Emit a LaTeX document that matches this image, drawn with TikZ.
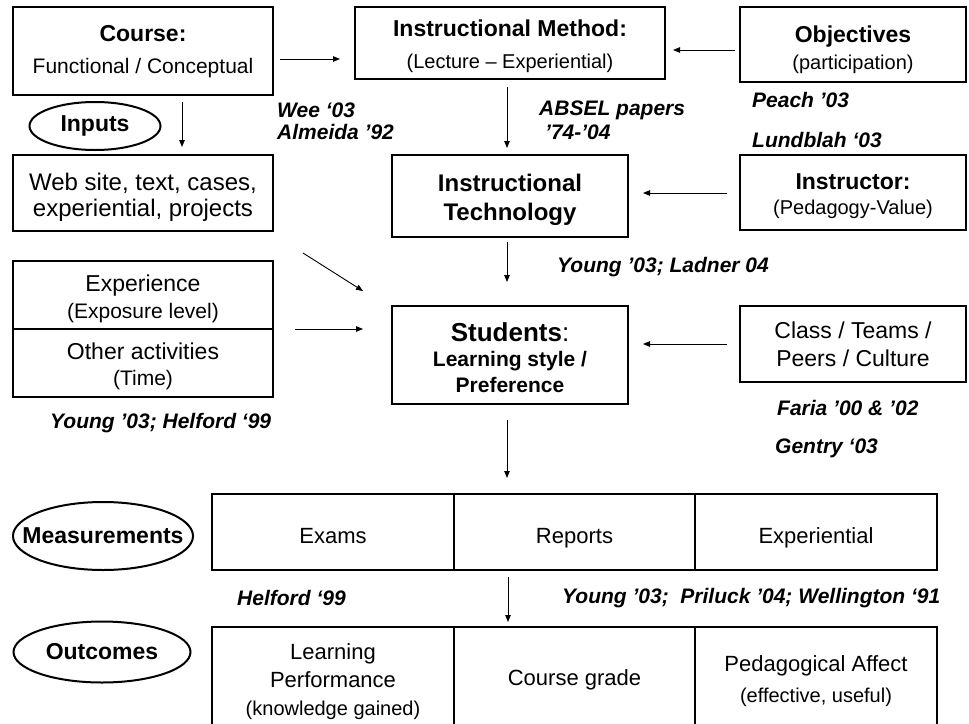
\documentclass[tikz,border=0pt]{standalone}
\usepackage{fontspec}
\setmainfont{Liberation Sans}
\usetikzlibrary{shapes.geometric,arrows.meta}
\newcommand{\myfs}[2]{\fontsize{#1}{#2}\selectfont}
\begin{document}
\begin{tikzpicture}[x=1pt,y=-1pt,
  box/.style={draw, line width=2.3pt, inner sep=0pt, outer sep=0pt},
  txt/.style={align=center, inner sep=0pt, outer sep=0pt},
  oval/.style={draw, ellipse, line width=2pt, inner sep=0pt, outer sep=0pt, font=\myfs{23}{28}\bfseries},
  cite/.style={anchor=west, inner sep=0pt, font=\myfs{21}{24}\bfseries\itshape},
  arr/.style={line width=0.9pt, -{Triangle[length=7pt,width=5.5pt]}},
]
\fill[white] (0,0) rectangle (969,723);
\useasboundingbox (0,0) rectangle (969,723);

% top row
\node[box, minimum width=260pt, minimum height=88pt] (course) at (143,51) {};
\node[txt, font=\myfs{21}{32}] (coursetx) at ([yshift=-0.5pt]course.center)
  {{\myfs{23}{32}\bfseries Course:}\\Functional / Conceptual};
\node[box, minimum width=310pt, minimum height=72pt] (method) at (510,43) {};
\node[txt, font=\myfs{20}{32}] (methodtx) at ([yshift=-3pt]method.center)
  {{\myfs{23}{32}\bfseries Instructional Method:}\\(Lecture – Experiential)};
\node[box, minimum width=226pt, minimum height=75pt] (objectives) at (853,44.5) {};
\node[txt, font=\myfs{20}{27}] (objectivestx) at ([yshift=-5.5pt]objectives.center)
  {{\myfs{23}{27}\bfseries Objectives}\\(participation)};

% second row
\node[oval, minimum width=131pt, minimum height=48pt] (inputs) at (95,126) {\makebox[0pt]{Inputs}};
\node[box, minimum width=260pt, minimum height=76pt] (web) at (143,193) {};
\node[txt, font=\myfs{24}{26}] (webtx) at ([yshift=-4pt]web.center)
  {Web site, text, cases,\\experiential, projects};
\node[box, minimum width=236pt, minimum height=82pt] (tech) at (510,196) {};
\node[txt, font=\myfs{24}{29}\bfseries] (techtx) at ([yshift=-3.5pt]tech.center)
  {Instructional\\Technology};
\node[box, minimum width=226pt, minimum height=75pt] (instructor) at (853,192.5) {};
\node[txt, font=\myfs{20}{25}] (instructortx) at ([yshift=-3.5pt]instructor.center)
  {{\myfs{23}{25}\bfseries Instructor:}\\(Pedagogy-Value)};

% third row
\node[box, minimum width=260pt, minimum height=68pt] (exp) at (143,295) {};
\node[txt, font=\myfs{21}{27}] (exptx) at ([yshift=-4pt]exp.center)
  {{\myfs{23}{27}Experience}\\(Exposure level)};
\node[box, minimum width=260pt, minimum height=68pt] (other) at (143,363) {};
\node[txt, font=\myfs{21}{26}] (othertx) at ([yshift=-3.5pt]other.center)
  {{\myfs{23}{26}Other activities}\\(Time)};
\node[box, minimum width=236pt, minimum height=98pt] (students) at (510,355) {};
\node[txt, font=\myfs{21}{26}\bfseries] (studentstx) at ([yshift=-3pt]students.center)
  {{\myfs{26}{30}Students\mdseries:}\\[-1pt]Learning style /\\Preference};
\node[box, minimum width=226pt, minimum height=76pt] (class) at (853,344) {};
\node[txt, font=\myfs{23}{28}] (classtx) at (class.center)
  {Class / Teams /\\Peers / Culture};

% measurements
\node[oval, minimum width=180pt, minimum height=68pt] (measov) at (103,536) {\makebox[0pt]{Measurements}};
\node[box, minimum width=242pt, minimum height=76pt] (mexam) at (333,532) {};
\node[box, minimum width=241pt, minimum height=76pt] (mrep) at (574.5,532) {};
\node[box, minimum width=242pt, minimum height=76pt] (mexp) at (816,532) {};
\node[txt, anchor=base, font=\myfs{22}{26}] (mexamtx) at (333,543) {Exams};
\node[txt, anchor=base, font=\myfs{22}{26}] (mreptx) at (574.5,543) {Reports};
\node[txt, anchor=base, font=\myfs{22}{26}] (mexptx) at (816,543) {Experiential};

% outcomes
\node[oval, minimum width=177pt, minimum height=61pt] (outov) at (102,652) {\makebox[0pt]{Outcomes}};
\begin{scope}
\clip (0,0) rectangle (969,723);
\node[box, minimum width=242pt, minimum height=106pt] (olearn) at (333,680) {};
\node[box, minimum width=241pt, minimum height=106pt] (orep) at (574.5,680) {};
\node[box, minimum width=242pt, minimum height=106pt] (oaff) at (816,680) {};
\end{scope}
\node[txt, font=\myfs{20}{28}] (olearntx) at ([yshift=-1.5pt]olearn.center)
  {{\myfs{22}{28}Learning}\\{\myfs{22}{28}Performance}\\(knowledge gained)};
\node[txt, font=\myfs{22}{28}] (oreptx) at (orep.center) {Course grade};
\node[txt, font=\myfs{20}{31}] (oafftx) at ([yshift=-1pt]oaff.center)
  {{\myfs{22}{31}Pedagogical Affect}\\(effective, useful)};

% citations
\node[cite] (c1) at (277,110) {Wee ‘03};
\node[cite] (c2) at (277,132) {Almeida ’92};
\node[cite] (c3) at (539,110) {ABSEL papers};
\node[cite] (c4) at (545,132) {’74-’04};
\node[cite] (c5) at (752,100) {Peach ’03};
\node[cite] (c6) at (752,140) {Lundblah ‘03};
\node[cite] (c7) at (557,267) {Young ’03; Ladner 04};
\node[cite] (c8) at (50,423) {Young ’03; Helford ‘99};
\node[cite] (c9) at (777,408) {Faria ’00 \& ’02};
\node[cite] (c10) at (775,448) {Gentry ‘03};
\node[cite] (c11) at (237,598) {Helford ‘99};
\node[cite] (c12) at (562,598) {Young ’03;\ \ Priluck ’04; Wellington ‘91};

% connectors
\draw[arr] ([shift={(7,8)}]course.east) -- ([shift={(-15,16)}]method.west);
\draw[arr] ([shift={(-5,5.5)}]objectives.west) -- ([shift={(8,7)}]method.east);
\draw[arr] ([shift={(39,7)}]course.south) -- ([shift={(39,-8)}]web.north);
\draw[arr] ([shift={(-3,8)}]method.south) -- ([shift={(-3,-7)}]tech.north);
\draw[arr] ([shift={(-13,0.5)}]instructor.west) -- ([shift={(15,-3)}]tech.east);
\draw[arr] ([shift={(-3,5)}]tech.south) -- ([shift={(-3,-24)}]students.north);
\draw[arr] ([shift={(30,22)}]web.south east) -- ([shift={(-29,-64)}]students.west);
\draw[arr] ([shift={(22,0)}]exp.south east) -- ([shift={(-29,-26)}]students.west);
\draw[arr] ([shift={(-13,0)}]class.west) -- ([shift={(15,-11)}]students.east);
\draw[arr] ([shift={(-3,16)}]students.south) -- ([shift={(-3,-16)}]students.south |- mrep.north);
\draw[arr] ([shift={(-2,7)}]students.south |- mrep.south) -- ([shift={(-2,-5)}]students.south |- orep.north);
\end{tikzpicture}
\end{document}
